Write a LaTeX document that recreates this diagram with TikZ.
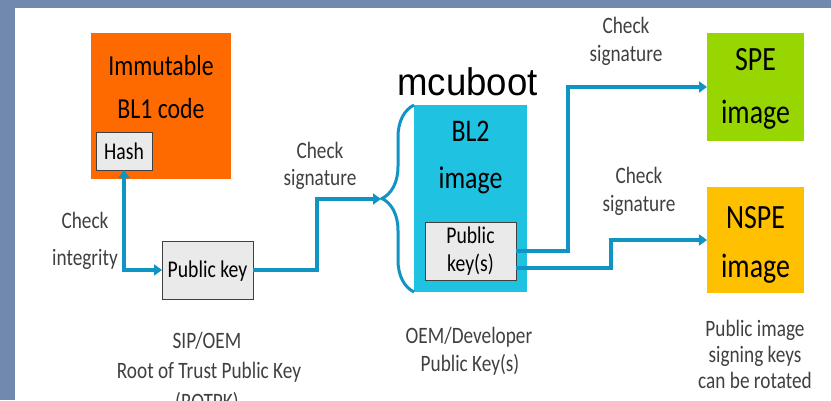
\documentclass[tikz,border=0pt]{standalone}
\usepackage{fontspec}
\setmainfont{Carlito}[FakeStretch=0.82]
\newfontfamily\arialf{Liberation Sans}[FakeStretch=0.95]
\usetikzlibrary{arrows.meta,decorations.pathreplacing}
\definecolor{frameblue}{HTML}{7189AD}
\definecolor{bloneorange}{HTML}{FF6A00}
\definecolor{bltwocyan}{HTML}{20C2E2}
\definecolor{spegreen}{HTML}{97D600}
\definecolor{nspegold}{HTML}{FFC000}
\definecolor{keyfill}{HTML}{EAEAEA}
\definecolor{linkteal}{HTML}{1094C4}
\definecolor{labelgray}{HTML}{404040}
\tikzset{
  colbox/.style={inner sep=0pt, outer sep=0pt, anchor=north west},
  keybox/.style={colbox, fill=keyfill, draw=labelgray, line width=1pt},
  txt/.style={anchor=base, inner sep=0pt, outer sep=0pt, text=black},
  lbl/.style={anchor=base, inner sep=0pt, outer sep=0pt, text=labelgray, font=\fontsize{23.5}{28}\selectfont},
  conn/.style={draw=linkteal, line width=3.1pt, -{Triangle[length=8pt,width=11pt]}},
  bothconn/.style={draw=linkteal, line width=3.1pt, {Triangle[length=8pt,width=11pt]}-{Triangle[length=8pt,width=11pt]}},
  bracestyle/.style={draw=linkteal, line width=3pt, decorate, decoration={brace, amplitude=32pt, aspect=0.5}}
}
\begin{document}
\begin{tikzpicture}[x=1pt,y=-1pt]
\fill[frameblue] (0,0) rectangle (831,400);
\fill[white] (15,8) rectangle (831,400);
\useasboundingbox (0,0) rectangle (831,400);

% boxes
\node[colbox, fill=bloneorange, minimum width=140pt, minimum height=146pt] (bl1) at (91,33) {};
\node[keybox, minimum width=56pt, minimum height=38pt] (hash) at (96,132) {};
\node[keybox, minimum width=91pt, minimum height=58pt] (pk) at (162,241) {};
\node[colbox, fill=bltwocyan, minimum width=113pt, minimum height=187pt] (bl2) at (414,105) {};
\node[keybox, minimum width=91pt, minimum height=58pt] (pks) at (425,222) {};
\node[colbox, fill=spegreen, minimum width=97pt, minimum height=108pt] (spe) at (707,33) {};
\node[colbox, fill=nspegold, minimum width=97pt, minimum height=106pt] (nspe) at (707,187) {};

% box texts
\node[txt, font=\fontsize{29}{34}\selectfont] (t1a) at (161,75) {Immutable};
\node[txt, font=\fontsize{29}{34}\selectfont] (t1b) at (161,118) {BL1 code};
\node[txt, font=\fontsize{24}{28}\selectfont] (thash) at (124,159) {Hash};
\node[txt, font=\fontsize{24}{28}\selectfont] (tpk) at (207.5,277) {Public key};
\node[txt, font=\arialf\fontsize{38.5}{44}\selectfont] (tmcu) at (467.5,95) {mcuboot};
\node[txt, font=\fontsize{31.5}{36}\selectfont] (t2a) at (470.5,141) {BL2};
\node[txt, font=\fontsize{31.5}{36}\selectfont] (t2b) at (470.5,188) {image};
\node[txt, font=\fontsize{24}{28}\selectfont] (tpksa) at (470.5,243) {Public};
\node[txt, font=\fontsize{24}{28}\selectfont] (tpksb) at (470.5,271.5) {key(s)};
\node[txt, font=\fontsize{34}{40}\selectfont] (tspea) at (755.5,70) {SPE};
\node[txt, font=\fontsize{34}{40}\selectfont] (tspeb) at (755.5,123) {image};
\node[txt, font=\fontsize{34}{40}\selectfont] (tnspea) at (755.5,228) {NSPE};
\node[txt, font=\fontsize{34}{40}\selectfont] (tnspeb) at (755.5,277) {image};

% labels
\node[lbl] (l1a) at (85,228) {Check};
\node[lbl] (l1b) at (85,265) {integrity};
\node[lbl] (l2a) at (320,158) {Check};
\node[lbl] (l2b) at (320,185) {signature};
\node[lbl] (l3a) at (626,33) {Check};
\node[lbl] (l3b) at (626,61) {signature};
\node[lbl] (l4a) at (639,183) {Check};
\node[lbl] (l4b) at (639,211) {signature};
\node[lbl] (c1a) at (207,348) {SIP/OEM};
\node[lbl] (c1b) at (209,378) {Root of Trust Public Key};
\node[lbl] (c1c) at (207,409) {(ROTPK)};
\node[lbl] (c2a) at (469,343) {OEM/Developer};
\node[lbl] (c2b) at (470,371) {Public Key(s)};
\node[lbl] (c3a) at (755,336) {Public image};
\node[lbl] (c3b) at (755,362) {signing keys};
\node[lbl] (c3c) at (755,388) {can be rotated};

% brace and connectors
\draw[bracestyle] (bl2.south west) -- (bl2.north west);
\coordinate (tip) at (381,199);
\coordinate (j1) at (317,0);
\coordinate (j2) at (568,0);
\coordinate (j3) at (611,0);
\draw[bothconn] (hash.south) |- (pk.west);
\draw[conn] (pk.east) -| (j1 |- tip) -- (tip);
\draw[conn] (pks.east) -| (j2 |- spe.west) -- (spe.west);
\draw[conn] ([yshift=-17pt]pks.east) -| (j3 |- nspe.west) -- (nspe.west);
\end{tikzpicture}
\end{document}
